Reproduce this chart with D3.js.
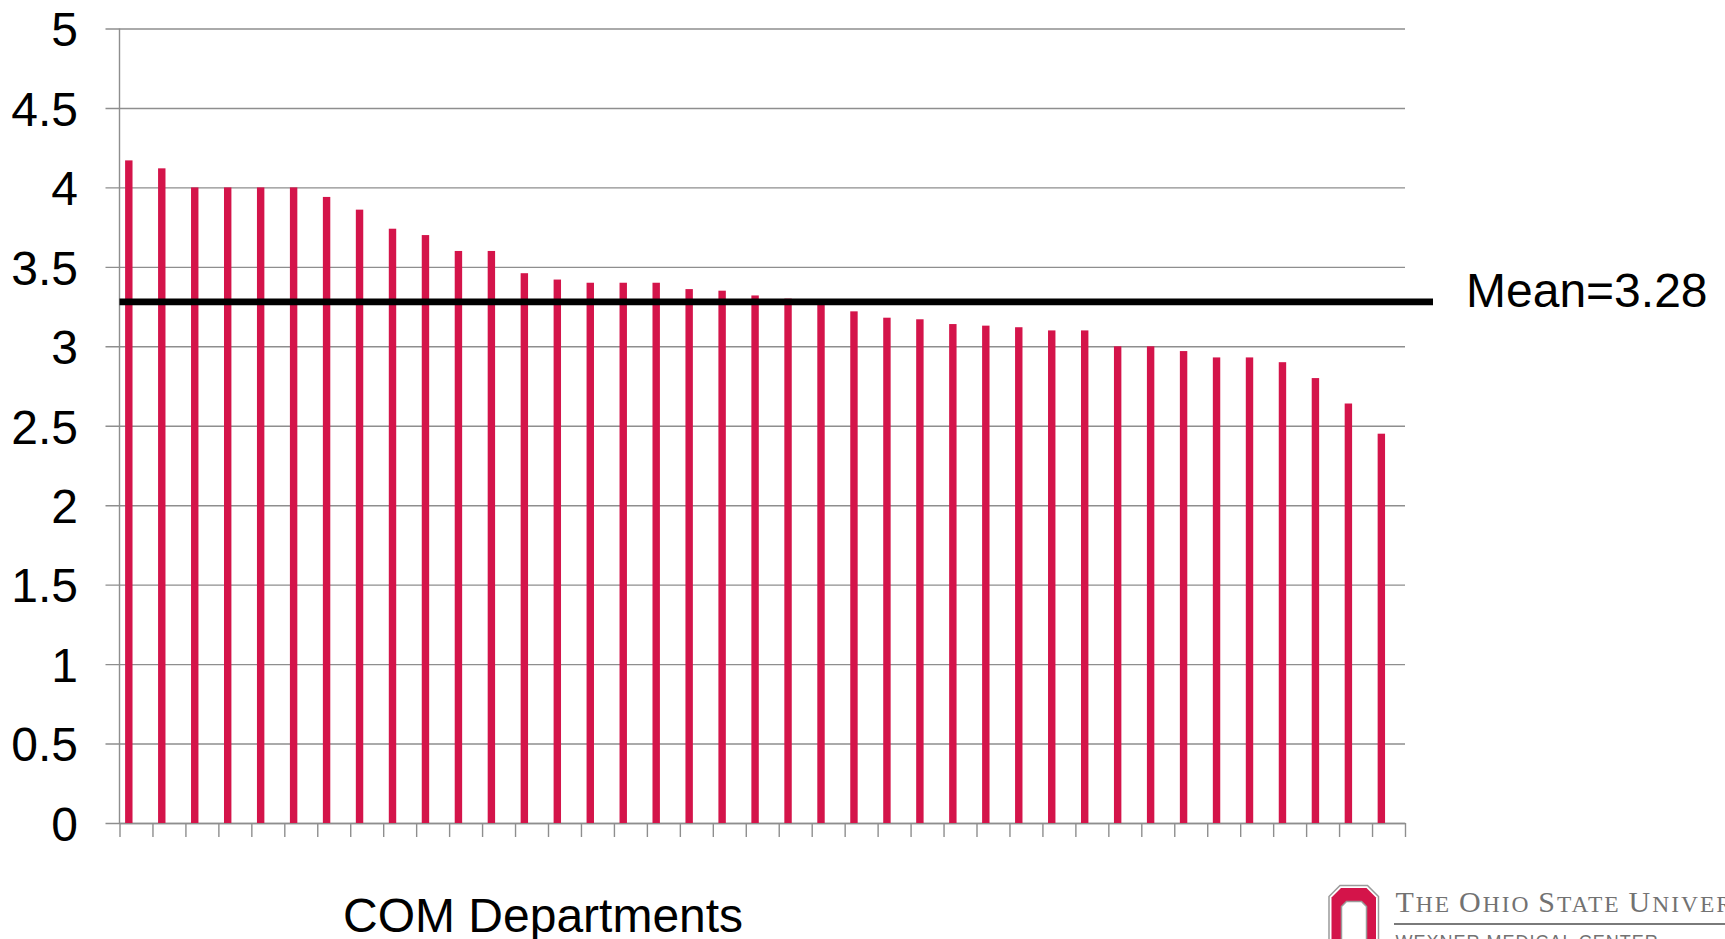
<!DOCTYPE html>
<html>
<head>
<meta charset="utf-8">
<script src="https://cdn.jsdelivr.net/npm/d3@7/dist/d3.min.js"></script>
<style>
  html, body { margin: 0; padding: 0; background: #ffffff; overflow: hidden; }
  svg { display: block; font-family: "Liberation Sans", Arial, sans-serif; }
</style>
</head>
<body>
<svg id="chart" width="1725" height="939"></svg>
<script>
// Department scores, sorted high to low
const scores = [
  4.17, 4.12, 4.00, 4.00, 4.00, 4.00, 3.94, 3.86, 3.74, 3.70,
  3.60, 3.60, 3.46, 3.42, 3.40, 3.40, 3.40, 3.36, 3.35, 3.32,
  3.30, 3.27, 3.22, 3.18, 3.17, 3.14, 3.13, 3.12, 3.10, 3.10,
  3.00, 3.00, 2.97, 2.93, 2.93, 2.90, 2.80, 2.64, 2.45
];
const departments = scores.map((_, i) => i + 1);
const yTicks = [0, 0.5, 1, 1.5, 2, 2.5, 3, 3.5, 4, 4.5, 5];
const yTickLabels = ["0", "0.5", "1", "1.5", "2", "2.5", "3", "3.5", "4", "4.5", "5"];
const meanValue = 3.28;
const meanLabel = "Mean=3.28";
const xTitle = "COM Departments";

const svg = d3.select("#chart");

const plot = { left: 119.5, right: 1405, top: 28.5, bottom: 823 };
const barColor = "#d4144a";
const gridColor = "#8e8e8e";
const sans = "'Liberation Sans', Arial, sans-serif";
const serif = "'Liberation Serif', 'Times New Roman', serif";

const x = d3.scaleBand()
  .domain(departments)
  .range([plot.left, plot.right])
  .paddingInner(0).paddingOuter(0);

// boundary scale for the category tick marks
const xEdge = d3.scaleLinear()
  .domain([0, departments.length])
  .range([plot.left, plot.right]);

const y = d3.scaleLinear().domain([0, 5]).range([plot.bottom, plot.top]);

// Y axis: gridlines (extending left past the axis as tick marks) and labels
const yAxisG = svg.append("g")
  .attr("transform", `translate(${plot.left - 14},0)`)
  .call(d3.axisLeft(y)
    .tickValues(yTicks)
    .tickFormat((d, i) => yTickLabels[i])
    .tickSize(-(plot.right - plot.left + 14))
    .tickPadding(27.5));
yAxisG.select(".domain").remove();
yAxisG.selectAll(".tick line").attr("stroke", gridColor).attr("stroke-width", 1.4);
yAxisG.attr("font-family", null).attr("font-size", null);
yAxisG.selectAll(".tick text")
  .style("font-family", sans)
  .style("font-size", "48px")
  .attr("fill", "#000")
  .attr("dy", "0.36em");

// X axis: baseline and category boundary ticks
const xAxisG = svg.append("g")
  .attr("transform", `translate(0,${plot.bottom})`)
  .call(d3.axisBottom(xEdge)
    .tickValues(d3.range(departments.length + 1))
    .tickFormat("")
    .tickSizeInner(14)
    .tickSizeOuter(0));
xAxisG.select(".domain").attr("stroke", gridColor).attr("stroke-width", 1.4);
xAxisG.selectAll(".tick line").attr("stroke", gridColor).attr("stroke-width", 1.4);

// vertical value axis line
svg.append("line")
  .attr("x1", plot.left).attr("x2", plot.left)
  .attr("y1", y(5)).attr("y2", y(0))
  .attr("stroke", gridColor).attr("stroke-width", 1.4);

// Bars
const bw = x.bandwidth();
svg.append("g").selectAll("rect")
  .data(scores)
  .join("rect")
  .attr("x", (d, i) => x(departments[i]) + bw * 0.17)
  .attr("width", bw * 0.225)
  .attr("y", d => y(d))
  .attr("height", d => y(0) - y(d))
  .attr("fill", barColor);

// Mean line
svg.append("line")
  .attr("x1", plot.left).attr("x2", 1433)
  .attr("y1", y(meanValue)).attr("y2", y(meanValue))
  .attr("stroke", "#000").attr("stroke-width", 6.7);

svg.append("text")
  .attr("x", 1466).attr("y", 306.5)
  .style("font-family", sans).style("font-size", "48px")
  .text(meanLabel);

// Axis title
svg.append("text")
  .attr("x", 343).attr("y", 932)
  .style("font-family", sans).style("font-size", "48px")
  .text(xTitle);

// University mark, bottom right
const logo = svg.append("g");
const oct = (x0, y0, w, h, c) => [
  [x0 + c, y0], [x0 + w - c, y0], [x0 + w, y0 + c], [x0 + w, y0 + h - c],
  [x0 + w - c, y0 + h], [x0 + c, y0 + h], [x0, y0 + h - c], [x0, y0 + c]
];
const line = d3.line();
logo.append("path")
  .attr("d", line(oct(1329, 885.5, 49.5, 90, 11)) + "Z")
  .attr("fill", "#fff").attr("stroke", "#9a9a9a").attr("stroke-width", 1.5);
logo.append("path")
  .attr("d", line(oct(1331.5, 888, 44.5, 85, 9.5)) + "Z")
  .attr("fill", barColor);
logo.append("path")
  .attr("d", line(oct(1341.5, 901.5, 25, 45, 5)) + "Z")
  .attr("fill", "#fff").attr("stroke", "#9a9a9a").attr("stroke-width", 1.5);

const name = logo.append("text")
  .attr("x", 1395.5).attr("y", 912.3)
  .style("font-family", serif)
  .style("letter-spacing", "2px")
  .style("fill", "#727272");
[["T", 30], ["HE ", 23.5], ["O", 30], ["HIO ", 23.5], ["S", 30], ["TATE ", 23.5], ["U", 30], ["NIVERSITY", 23.5]]
  .forEach(([t, s]) => name.append("tspan").style("font-size", s + "px").text(t));

logo.append("line")
  .attr("x1", 1394).attr("x2", 1725)
  .attr("y1", 924).attr("y2", 924)
  .attr("stroke", "#7a7a7a").attr("stroke-width", 2);

logo.append("text")
  .attr("x", 1395.5).attr("y", 948)
  .style("font-family", sans).style("font-size", "18px")
  .style("letter-spacing", "1px")
  .style("fill", "#727272")
  .text("WEXNER MEDICAL CENTER");
</script>
</body>
</html>
